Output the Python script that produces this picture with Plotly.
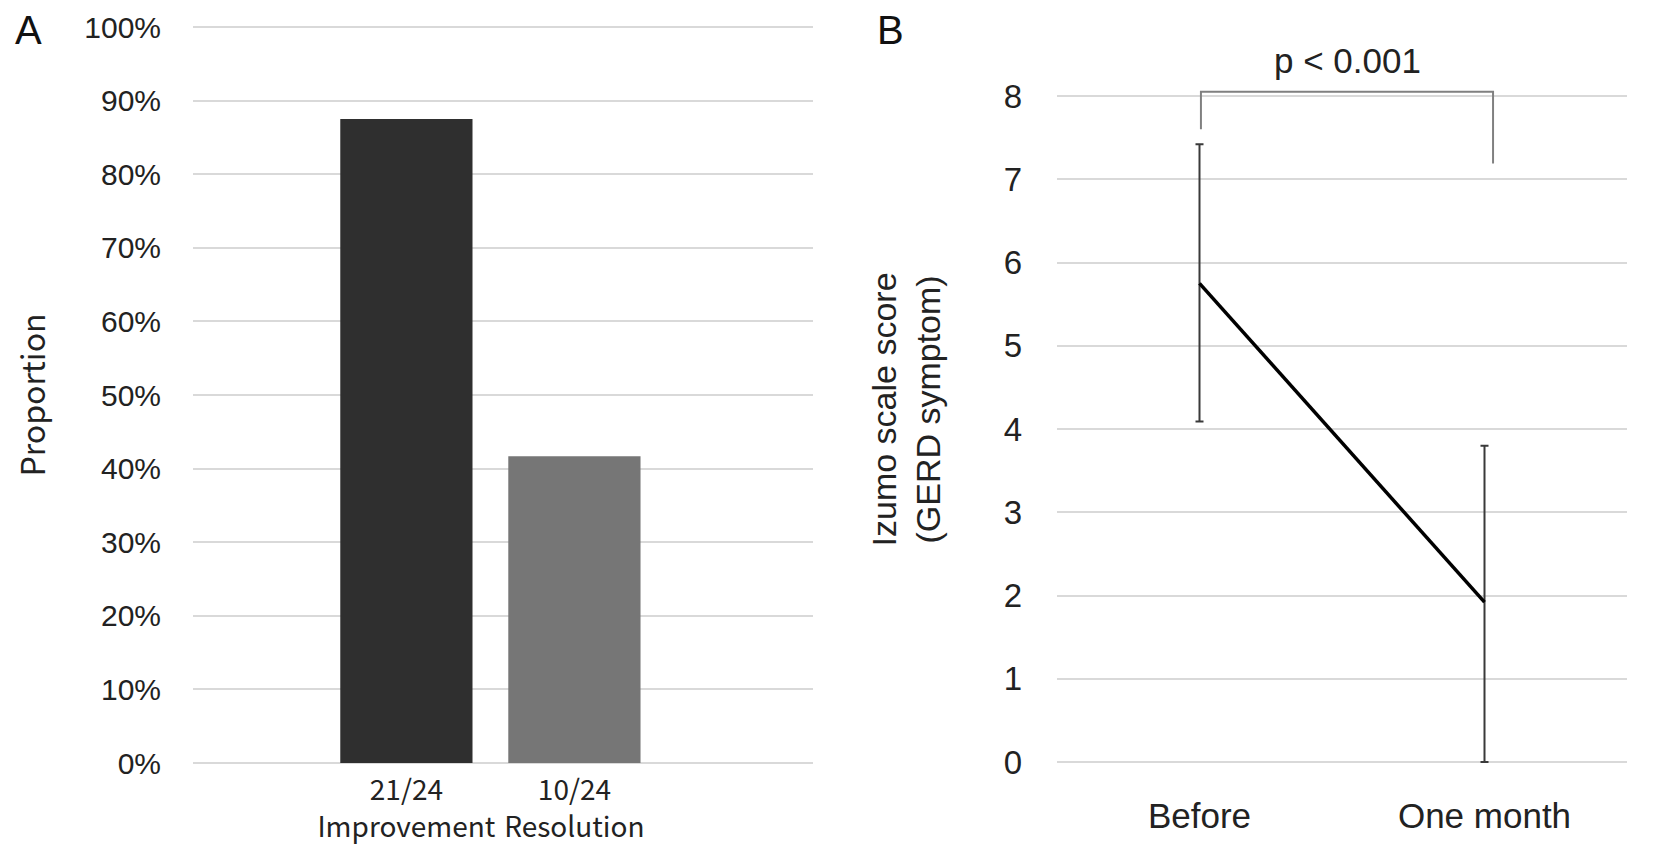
import plotly.graph_objects as go

# ---- Panel A data ----
bar_categories = ["21/24<br>Improvement", "10/24<br>Resolution"]
bar_values = [21 / 24, 10 / 24]
bar_colors = ["#2f2f2f", "#767676"]
pct_ticks = [0, 0.1, 0.2, 0.3, 0.4, 0.5, 0.6, 0.7, 0.8, 0.9, 1.0]
pct_labels = ["0%", "10%", "20%", "30%", "40%", "50%", "60%", "70%", "80%", "90%", "100%"]

# ---- Panel B data ----
time_points = ["Before", "One month"]
score_mean = [5.75, 1.92]
score_err_plus = [1.67, 1.88]
score_err_minus = [1.66, 1.92]
score_ticks = [0, 1, 2, 3, 4, 5, 6, 7, 8]

# significance bracket (category index, score)
bracket_x = [0.005, 0.005, 1.03, 1.03]
bracket_y = [7.60, 8.05, 8.05, 7.19]
p_text = "p < 0.001"

# page offset (body margin) and figure size
OFF = 8
W, H = 1654 - 2 * OFF, 853 - 2 * OFF


def PX(px):
    return (px - OFF) / W


def PY(py):
    return 1 - (py - OFF) / H


fontA = "Noto Sans CJK JP"
fontB = "Liberation Sans"
txt = "#222222"

fig = go.Figure()

fig.add_trace(go.Bar(
    x=bar_categories, y=bar_values, marker=dict(color=bar_colors, line=dict(width=0)),
    width=0.787, xaxis="x", yaxis="y", showlegend=False, hoverinfo="y"))

fig.add_trace(go.Scatter(
    x=time_points, y=score_mean, mode="lines",
    line=dict(color="#000000", width=3.5),
    error_y=dict(type="data", symmetric=False, array=score_err_plus,
                 arrayminus=score_err_minus, color="#3a3a3a", thickness=2, width=4),
    xaxis="x2", yaxis="y2", showlegend=False))

fig.add_trace(go.Scatter(
    x=bracket_x, y=bracket_y, mode="lines",
    line=dict(color="#808080", width=2),
    xaxis="x3", yaxis="y2", showlegend=False, hoverinfo="skip"))

grid = "#d9d9d9"
xa_dom = [PX(193), PX(813)]
xb_dom = [PX(1057), PX(1627)]

# panel A: value 0 at px 763, value 1 at px 27
ya_lo, ya_hi = -0.006, 1.006
unitA = 763 - 27
ya_dom = [PY(763 - ya_lo * unitA), PY(763 - ya_hi * unitA)]

# panel B: value 0 at px 762, value 8 at px 96
unitB = (762 - 96) / 8.0
yb_lo, yb_hi = -0.03, 8.5
yb_dom = [PY(762 - yb_lo * unitB), PY(762 - yb_hi * unitB)]

fig.update_layout(
    width=W, height=H,
    margin=dict(l=0, r=0, t=0, b=0),
    paper_bgcolor="white", plot_bgcolor="white",
    showlegend=False,
    xaxis=dict(domain=xa_dom, type="category", range=[-1.27, 2.42],
               showgrid=False, zeroline=False, showline=False, ticks="",
               tickfont=dict(family=fontA, size=28, color=txt),
               ticklabelstandoff=4, anchor="y", automargin=False,
               ticklabeloverflow="allow"),
    yaxis=dict(domain=ya_dom, range=[ya_lo, ya_hi],
               tickvals=pct_ticks, ticktext=pct_labels,
               showgrid=True, gridcolor=grid, gridwidth=2, zeroline=False,
               showline=False, ticks="",
               tickfont=dict(family=fontB, size=30, color=txt),
               ticklabelstandoff=31, anchor="x", automargin=False,
               ticklabeloverflow="allow",
               title=dict(text="Proportion", standoff=42,
                          font=dict(family=fontA, size=32, color=txt))),
    xaxis2=dict(domain=xb_dom, type="category", range=[-0.5, 1.5],
                showgrid=False, zeroline=False, showline=False, ticks="",
                tickfont=dict(family=fontB, size=35, color=txt),
                ticklabelstandoff=28, anchor="y2", automargin=False,
                ticklabeloverflow="allow"),
    xaxis3=dict(domain=xb_dom, range=[-0.5, 1.5], visible=False,
                overlaying="x2", anchor="y2", automargin=False),
    yaxis2=dict(domain=yb_dom, range=[yb_lo, yb_hi],
                tickvals=score_ticks,
                showgrid=True, gridcolor=grid, gridwidth=2, zeroline=False,
                showline=False, ticks="",
                tickfont=dict(family=fontB, size=33, color=txt),
                ticklabelstandoff=34, anchor="x2", automargin=False,
                ticklabeloverflow="allow",
                title=dict(text="Izumo scale score<br>(GERD symptom)", standoff=52,
                           font=dict(family=fontB, size=34, color=txt))),
    annotations=[
        dict(text="A", x=PX(28), y=PY(30), xref="paper", yref="paper",
             showarrow=False, font=dict(family=fontB, size=40, color="#111111"),
             xanchor="center", yanchor="middle"),
        dict(text="B", x=PX(890), y=PY(30), xref="paper", yref="paper",
             showarrow=False, font=dict(family=fontB, size=40, color="#111111"),
             xanchor="center", yanchor="middle"),
        dict(text=p_text, x=0.52, y=8.43, xref="x3", yref="y2",
             showarrow=False, font=dict(family=fontB, size=35, color=txt),
             xanchor="center", yanchor="middle"),
    ],
)

fig.write_html("out.html")
